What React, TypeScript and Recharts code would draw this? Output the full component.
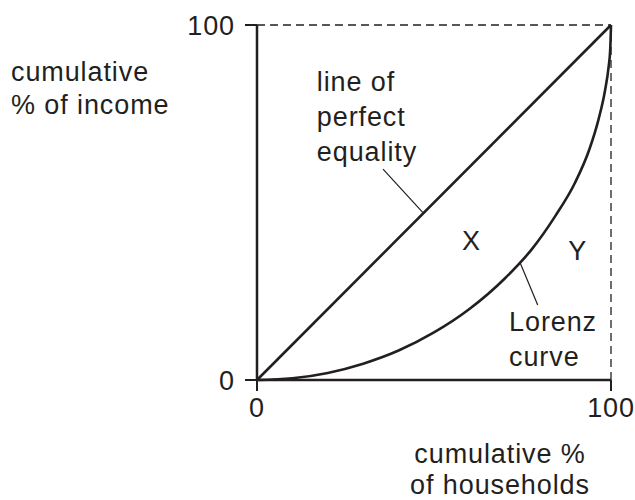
import { LineChart, Line, XAxis, YAxis, ReferenceLine, ReferenceDot, Label } from 'recharts';

// Lorenz curve (cumulative % households -> cumulative % income)
const lorenzX = [0, 10, 20, 30, 40, 50, 60, 70, 77.6, 84.2, 89.8, 93.9, 96.5, 98.3, 99.3, 99.8, 100];
const lorenzY = [0, 0.5, 2, 4.6, 8.3, 13.4, 20, 28.6, 36.8, 46.1, 55.5, 65, 73.5, 81.5, 88, 93.5, 100];

const equalityX = [0, 100];
const equalityY = [0, 100];

const tickValues = [0, 100];

// annotation text anchored in data units
const notes = [
  { text: 'line of', x: 16.9, y: 84.1, anchor: 'start' },
  { text: 'perfect', x: 16.9, y: 74.2, anchor: 'start' },
  { text: 'equality', x: 16.9, y: 64.3, anchor: 'start' },
  { text: 'X', x: 60.6, y: 39.4, anchor: 'middle' },
  { text: 'Y', x: 90.6, y: 36.6, anchor: 'middle' },
  { text: 'Lorenz', x: 71.2, y: 16.4, anchor: 'start' },
  { text: 'curve', x: 71.2, y: 6.6, anchor: 'start' },
];

const leaders = [
  [{ x: 35.6, y: 59.4 }, { x: 47, y: 47 }],
  [{ x: 74.3, y: 33.1 }, { x: 79.3, y: 21.1 }],
];

const lorenzData = lorenzX.map((x, i) => ({ x, y: lorenzY[i] }));
const equalityData = equalityX.map((x, i) => ({ x, y: equalityY[i] }));

const INK = '#231f20';
const FONT = { fontFamily: '"Liberation Sans", Arial, sans-serif', fontSize: 27, letterSpacing: 0.9, fill: INK };

export default function App() {
  return (
    <div style={{ position: 'absolute', left: 0, top: 0, background: '#fff' }}>
      <LineChart width={635} height={500} margin={{ top: 25, right: 24, bottom: 0, left: 0 }}>
        <XAxis
          type="number"
          dataKey="x"
          domain={[0, 100]}
          ticks={tickValues}
          height={120}
          axisLine={{ stroke: INK, strokeWidth: 2.5 }}
          tickLine={{ stroke: INK, strokeWidth: 2 }}
          tickSize={11}
          tickMargin={7}
          tick={FONT}
        >
          <Label
            content={({ viewBox }: any) => (
              <text textAnchor="middle" style={FONT as any} fill={INK}>
                <tspan x={viewBox.x + 243} y={viewBox.y + 74} dy="0.35em">cumulative %</tspan>
                <tspan x={viewBox.x + 243} y={viewBox.y + 105} dy="0.35em">of households</tspan>
              </text>
            )}
          />
        </XAxis>
        <YAxis
          type="number"
          dataKey="y"
          domain={[0, 100]}
          ticks={tickValues}
          width={257}
          axisLine={{ stroke: INK, strokeWidth: 2.5 }}
          tickLine={{ stroke: INK, strokeWidth: 2 }}
          tickSize={12}
          tickMargin={10}
          tick={FONT}
        >
          <Label
            content={({ viewBox }: any) => (
              <text textAnchor="start" style={FONT as any} fill={INK}>
                <tspan x={viewBox.x + 11} y={viewBox.y + 47} dy="0.35em">cumulative</tspan>
                <tspan x={viewBox.x + 11} y={viewBox.y + 80} dy="0.35em">% of income</tspan>
              </text>
            )}
          />
        </YAxis>

        <ReferenceLine y={100} stroke={INK} strokeWidth={1.3} strokeDasharray="8 5" />
        <ReferenceLine x={100} stroke={INK} strokeWidth={1.3} strokeDasharray="8 5" />

        <Line data={equalityData} dataKey="y" type="linear" stroke={INK} strokeWidth={2.6} dot={false} isAnimationActive={false} />
        <Line data={lorenzData} dataKey="y" type="monotone" stroke={INK} strokeWidth={2.6} dot={false} isAnimationActive={false} />

        {leaders.map((seg, i) => (
          <ReferenceLine key={i} segment={seg} stroke={INK} strokeWidth={1.2} />
        ))}

        {notes.map((n) => (
          <ReferenceDot
            key={n.text}
            x={n.x}
            y={n.y}
            r={0}
            fill="none"
            stroke="none"
            label={{
              content: ({ viewBox }: any) => (
                <text
                  x={viewBox.x + viewBox.width / 2}
                  y={viewBox.y + viewBox.height / 2}
                  dy="0.35em"
                  textAnchor={n.anchor}
                  style={FONT as any}
                  fill={INK}
                >
                  {n.text}
                </text>
              ),
            }}
          />
        ))}
      </LineChart>
    </div>
  );
}
